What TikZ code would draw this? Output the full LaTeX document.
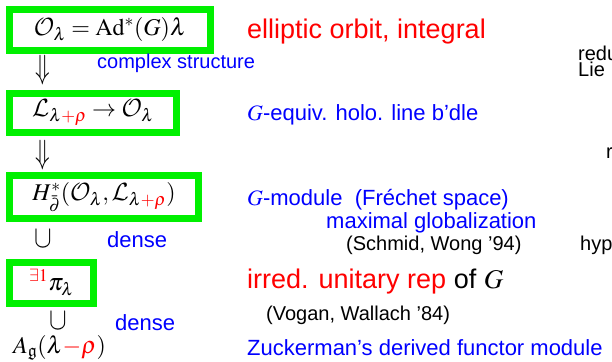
\documentclass[tikz,border=0pt]{standalone}
\usepackage{amssymb}
\usepackage{mathptmx}
\usepackage{graphicx}
\DeclareMathAlphabet{\mathcal}{OMS}{cmsy}{m}{n}
\usepackage[no-math]{fontspec}
\setmainfont{Liberation Sans}
\setsansfont{Liberation Sans}
\definecolor{boxgreen}{RGB}{0,240,0}
\definecolor{myred}{RGB}{255,0,0}
\definecolor{myblue}{RGB}{0,0,255}
\newcommand\fmath{\fontsize{24}{30}\selectfont}
\newcommand\fbig{\fontsize{27}{32}\selectfont}
\newcommand\fmid{\fontsize{22}{26}\selectfont}
\newcommand\fsmall{\fontsize{20}{24}\selectfont}
\newcommand\mydown{\scalebox{1}[1.4]{$\Downarrow$}}
\newcommand\mycup{\scalebox{1.1}[1.3]{$\cup$}}
\begin{document}
\begin{tikzpicture}[x=1pt,y=-1pt,
  gbox/.style={draw=boxgreen,line width=7pt,inner sep=0pt,font=\fmath},
  lab/.style={anchor=base west,inner sep=0pt},
  redlab/.style={lab,text=myred,font=\fbig},
  bluelab/.style={lab,text=myblue,font=\fmid},
  bluesmall/.style={lab,text=myblue,font=\fsmall},
  blacklab/.style={lab,text=black,font=\fsmall},
  sym/.style={inner sep=0pt,font=\fmath}]
\useasboundingbox (0,0) rectangle (612,361);
\clip (0,0) rectangle (612,361);
% boxes
\node[gbox,minimum width=200.5pt,minimum height=40.5pt] (b1) at (110,30)
  {$\mathcal{O}_\lambda = \mathrm{Ad}^*(G)\lambda$};
\node[gbox,minimum width=167pt,minimum height=39pt] (b2) at (93,113)
  {$\mathcal{L}_{\lambda{\color{myred}+\rho}} \to \mathcal{O}_\lambda$};
\node[gbox,minimum width=189pt,minimum height=43pt] (b3) at (104,197)
  {$H^*_{\bar\partial}(\mathcal{O}_\lambda, \mathcal{L}_{\lambda{\color{myred}+\rho}})$};
\node[gbox,minimum width=84pt,minimum height=41pt] (b4) at (51.5,282.5)
  {$^{\color{myred}\exists1}\pi_\lambda$};
% vertical symbols
\node[sym] (d1) at (43,70.5) {\mydown};
\node[sym] (d2) at (43,155) {\mydown};
\node[sym,anchor=base] (u1) at (43,247) {\mycup};
\node[sym,anchor=base] (u2) at (58,329) {\mycup};
\node[lab,font=\fmath] (ag) at (13,353) {$A_{\mathfrak g}(\lambda{\color{myred}-\rho})$};
% labels
\node[redlab] (t1) at (247,38) {elliptic orbit, integral};
\node[bluesmall] (t2) at (97,68) {complex structure};
\node[bluelab] (t3) at (247,120) {$G$-equiv. holo. line b'dle};
\node[bluelab] (t4) at (247,205) {$G$-module\ \ (Fréchet space)};
\node[bluelab] (t5) at (326,228) {maximal globalization};
\node[blacklab] (t6) at (346,250) {(Schmid, Wong '94)};
\node[bluelab] (t7) at (107,247) {dense};
\node[redlab] (t8) at (247,288) {irred. unitary rep \textcolor{black}{of $G$}};
\node[blacklab] (t9) at (266,320) {(Vogan, Wallach '84)};
\node[bluelab] (t10) at (115,330) {dense};
\node[bluelab] (t11) at (247,355) {Zuckerman's derived functor module};
% right edge (cut off)
\node[blacklab] (r1) at (578,60) {redu};
\node[blacklab] (r2) at (578,76) {Lie};
\node[blacklab] (r3) at (606,158) {r};
\node[blacklab] (r4) at (580,250) {hyp};
\end{tikzpicture}
\end{document}
